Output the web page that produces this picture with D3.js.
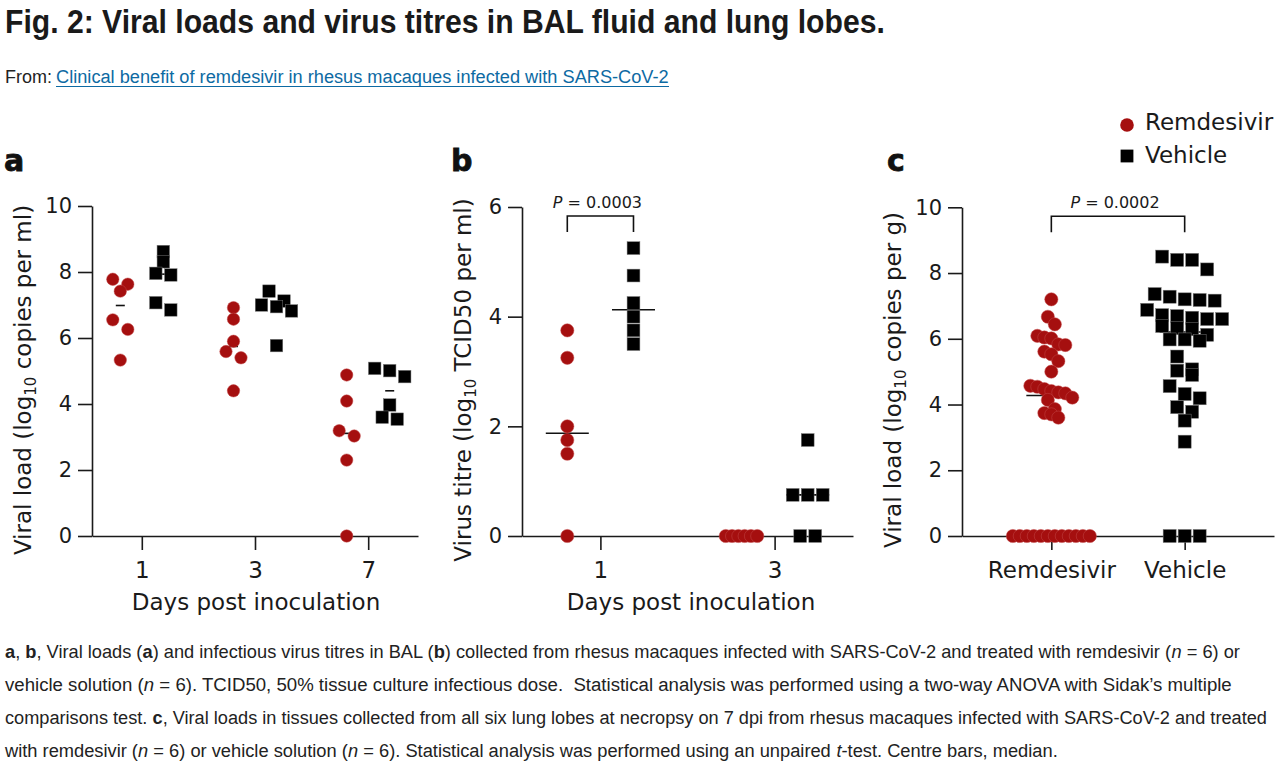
<!DOCTYPE html>
<html><head><meta charset="utf-8">
<script src="https://cdn.jsdelivr.net/npm/d3@7"></script>
<style>
html,body{margin:0;padding:0;background:#fff;}
svg{display:block;}
</style></head><body>
<svg id="chart" width="1280" height="766"></svg>
<script>
// ---------------- data ----------------
const titleText = "Fig. 2: Viral loads and virus titres in BAL fluid and lung lobes.";
const fromLabel = "From:";
const fromLink = "Clinical benefit of remdesivir in rhesus macaques infected with SARS-CoV-2";

// Panel a: viral load in BAL (log10 copies per ml)
const aDays = ["1", "3", "7"];
const aRemdesivir = [
  [7.78, 7.63, 7.42, 6.55, 6.26, 5.33],
  [6.92, 6.57, 5.90, 5.59, 5.40, 4.40],
  [4.88, 4.09, 3.19, 3.03, 2.30, 0]
];
const aVehicle = [
  [8.62, 8.31, 7.96, 7.91, 7.07, 6.85],
  [7.42, 7.12, 7.00, 6.95, 6.82, 5.77],
  [5.08, 5.01, 4.83, 3.97, 3.60, 3.54]
];
const aTicks = [0, 2, 4, 6, 8, 10];

// Panel b: virus titre in BAL (log10 TCID50 per ml)
const bDays = ["1", "3"];
const bRemdesivir = [
  [3.75, 3.25, 2.0, 1.75, 1.5, 0],
  [0, 0, 0, 0, 0, 0]
];
const bVehicle = [
  [5.25, 4.75, 4.25, 4.0, 3.75, 3.5],
  [1.75, 0.75, 0.75, 0.75, 0, 0]
];
const bTicks = [0, 2, 4, 6];
const bPValue = "0.0003";

// Panel c: viral load in lung lobes (log10 copies per g)
const cGroups = ["Remdesivir", "Vehicle"];
const cRemdesivir = [7.20, 6.67, 6.44, 6.09, 6.04, 6.01, 5.83, 5.81, 5.61, 5.53, 5.32, 5.00,
  4.57, 4.54, 4.47, 4.41, 4.37, 4.34, 4.21, 4.14, 3.86, 3.74, 3.70, 3.60,
  0, 0, 0, 0, 0, 0, 0, 0, 0, 0, 0, 0];
const cVehicle = [8.50, 8.40, 8.40, 8.11, 7.36, 7.28, 7.20, 7.18, 7.16, 6.88, 6.72, 6.69,
  6.64, 6.60, 6.60, 6.39, 6.32, 6.29, 6.12, 5.98, 5.98, 5.94, 5.46, 5.07, 5.03, 4.90,
  4.56, 4.32, 4.19, 3.92, 3.78, 3.51, 2.87, 0, 0, 0];
const cTicks = [0, 2, 4, 6, 8, 10];
const cPValue = "0.0002";

const legendItems = ["Remdesivir", "Vehicle"];

const captionLines = [
  [["a", "b"], [", "], ["b", "b"], [", Viral loads ("], ["a", "b"], [") and infectious virus titres in BAL ("], ["b", "b"], [") collected from rhesus macaques infected with SARS-CoV-2 and treated with remdesivir ("], ["n", "i"], [" = 6) or"]],
  [["vehicle solution ("], ["n", "i"], [" = 6). TCID50, 50% tissue culture infectious dose.  Statistical analysis was performed using a two-way ANOVA with Sidak\u2019s multiple"]],
  [["comparisons test. "], ["c", "b"], [", Viral loads in tissues collected from all six lung lobes at necropsy on 7 dpi from rhesus macaques infected with SARS-CoV-2 and treated"]],
  [["with remdesivir ("], ["n", "i"], [" = 6) or vehicle solution ("], ["n", "i"], [" = 6). Statistical analysis was performed using an unpaired "], ["t", "i"], ["-test. Centre bars, median."]]
];

// ---------------- styles ----------------
const RED = "#a50f0f";
const INK = "#1a1a1a";
const FONT = "'DejaVu Sans', 'Liberation Sans', Arial, sans-serif";
const SANS = "'Liberation Sans', Arial, sans-serif";

const svg = d3.select("#chart");

// text line made of styled segments, squeezed horizontally to a target width
function squeezedLine(x, y, target, segs, size, color, weight) {
  const g = svg.append("g");
  let cx = 0;
  segs.forEach(s => {
    const t = g.append("text").attr("x", cx).attr("y", 0)
      .attr("font-family", SANS).attr("font-size", size).attr("fill", s[2] || color)
      .style("white-space", "pre").text(s[0]);
    if (weight) t.attr("font-weight", weight);
    if (s[1] === "b") t.attr("font-weight", 700);
    if (s[1] === "i") t.attr("font-style", "italic");
    cx += t.node().getComputedTextLength();
  });
  g.attr("transform", `translate(${x},${y}) scale(${target / cx},1)`);
  return g;
}

// ---------------- header ----------------
squeezedLine(5, 33, 880, [[titleText]], 34, "#1a1a1a", 700);
squeezedLine(5, 83, 47, [[fromLabel]], 19, "#222");
squeezedLine(56, 83, 613, [[fromLink]], 19, "#0d6aa3");
svg.append("line").attr("x1", 56).attr("x2", 669).attr("y1", 86.5).attr("y2", 86.5)
  .attr("stroke", "#0d6aa3").attr("stroke-width", 1.2);

// ---------------- caption ----------------
const capEnds = [1240, 1233, 1268, 1058];
const capBase = [658, 691, 724, 757];
captionLines.forEach((segs, i) => {
  squeezedLine(5, capBase[i], capEnds[i] - 5, segs, 19, "#222");
});

// ---------------- layout helper (row-based dot plot) ----------------
function layout(values, cx, y, step, thr) {
  const pts = values.map(v => ({ v: v, py: y(v) })).sort((a, b) => a.py - b.py);
  const rows = [];
  pts.forEach(p => {
    const r = rows[rows.length - 1];
    if (r && p.py - r[0].py < thr) r.push(p); else rows.push([p]);
  });
  rows.forEach(r => r.forEach((p, i) => { p.px = cx + (i - (r.length - 1) / 2) * step; }));
  return pts;
}

function drawPanel(c) {
  const g = svg.append("g");
  const y = d3.scaleLinear().domain([0, c.yMax]).range([536, c.yTop]);
  const x = d3.scalePoint().domain(c.cats).range([c.x0, c.x1]).padding(c.pad);

  const ax = g.append("g").attr("transform", `translate(${c.x0},0)`)
    .call(d3.axisLeft(y).tickValues(c.yTicks).tickFormat(d3.format("d"))
      .tickSize(14).tickSizeOuter(0).tickPadding(6));
  const bx = g.append("g").attr("transform", "translate(0,536)")
    .call(d3.axisBottom(x).tickSize(14).tickSizeOuter(0).tickPadding(12));
  [ax, bx].forEach(a => {
    a.attr("font-family", FONT).attr("font-size", null).attr("color", INK);
    a.selectAll("path,line").attr("stroke-width", 1.6);
  });
  ax.selectAll("text").attr("font-size", 21).attr("fill", INK);
  bx.selectAll("text").attr("font-size", 23).attr("fill", INK);

  // y title
  const yt = g.append("text").attr("transform", `translate(${c.ytX},380) rotate(-90)`)
    .attr("text-anchor", "middle").attr("font-family", FONT).attr("font-size", 23).attr("fill", INK);
  yt.append("tspan").text(c.yTitle[0]);
  yt.append("tspan").attr("font-size", 15).attr("dy", 5).text("10");
  yt.append("tspan").attr("dy", -5).text(c.yTitle[1]);

  if (c.xTitle) {
    g.append("text").attr("x", c.xtX).attr("y", 610).attr("text-anchor", "middle")
      .attr("font-family", FONT).attr("font-size", 23).attr("fill", INK).text(c.xTitle);
  }

  // panel letter
  g.append("text").attr("x", c.labelX).attr("y", 171).attr("font-family", FONT)
    .attr("font-weight", 700).attr("font-size", 30).attr("fill", "#111")
    .attr("stroke", "#111").attr("stroke-width", 0.8).text(c.letter);

  const off = c.offFrac * x.step();
  const groups = c.groups.map(gr => ({ cx: x(gr.cat) + gr.side * off, values: gr.values, shape: gr.shape }));

  // medians (under markers)
  groups.forEach(gr => {
    const m = d3.median(gr.values);
    g.append("line").attr("x1", gr.cx - c.mw).attr("x2", gr.cx + c.mw)
      .attr("y1", y(m)).attr("y2", y(m)).attr("stroke", "#111").attr("stroke-width", 1.6);
  });

  // markers
  groups.forEach(gr => {
    const step = gr.shape === "circle" ? c.stepC : c.stepS;
    const pts = layout(gr.values, gr.cx, y, step, c.thr);
    if (gr.shape === "circle") {
      g.append("g").selectAll("circle").data(pts).join("circle")
        .attr("cx", d => d.px).attr("cy", d => d.py).attr("r", c.r)
        .attr("fill", RED).attr("stroke", "#c24848").attr("stroke-width", 0.5);
    } else {
      g.append("g").selectAll("rect").data(pts).join("rect")
        .attr("x", d => d.px - c.s / 2).attr("y", d => d.py - c.s / 2)
        .attr("width", c.s).attr("height", c.s)
        .attr("fill", "#000").attr("stroke", "#777").attr("stroke-width", 0.5);
    }
  });

  // significance bracket
  if (c.bracket) {
    const lx = x(c.bracket.cat) + c.bracket.l * off;
    const rx = x(c.bracket.cat2) + c.bracket.r * off;
    const top = c.yTop + 9, bot = c.yTop + 25;
    g.append("path").attr("d", `M${lx},${bot}V${top}H${rx}V${bot}`)
      .attr("fill", "none").attr("stroke", "#111").attr("stroke-width", 1.6);
    const pt = g.append("text").attr("x", (lx + rx) / 2 - 3).attr("y", c.yTop + 1)
      .attr("text-anchor", "middle").attr("font-family", FONT).attr("font-size", 16).attr("fill", INK);
    pt.append("tspan").attr("font-style", "italic").text("P");
    pt.append("tspan").text(" = " + c.bracket.p);
  }
  return { x, y };
}

function pairGroups(cats, rem, veh) {
  const out = [];
  cats.forEach((cat, i) => {
    out.push({ cat, values: rem[i], shape: "circle", side: -1 });
    out.push({ cat, values: veh[i], shape: "square", side: 1 });
  });
  return out;
}

drawPanel({
  letter: "a", labelX: 4,
  cats: aDays, x0: 92, x1: 418, pad: 0.44, yMax: 10, yTop: 206, yTicks: aTicks,
  ytX: 31, yTitle: ["Viral load (log", " copies per ml)"], xTitle: "Days post inoculation", xtX: 256,
  groups: pairGroups(aDays, aRemdesivir, aVehicle), offFrac: 0.19,
  r: 6.2, s: 12.5, stepC: 15, stepS: 15, thr: 10, mw: 4.5
});

drawPanel({
  letter: "b", labelX: 451,
  cats: bDays, x0: 522, x1: 853, pad: 0.45, yMax: 6, yTop: 207, yTicks: bTicks,
  ytX: 471, yTitle: ["Virus titre (log", " TCID50 per ml)"], xTitle: "Days post inoculation", xtX: 691,
  groups: pairGroups(bDays, bRemdesivir, bVehicle), offFrac: 0.19,
  r: 6.6, s: 12.8, stepC: 6.3, stepS: 15, thr: 12, mw: 21.5,
  bracket: { cat: "1", cat2: "1", l: -1, r: 1, p: bPValue }
});

drawPanel({
  letter: "c", labelX: 887,
  cats: cGroups, x0: 962, x1: 1274, pad: 0.67, yMax: 10, yTop: 207.3, yTicks: cTicks,
  ytX: 901, yTitle: ["Viral load (log", " copies per g)"], xTitle: null,
  groups: [
    { cat: cGroups[0], values: cRemdesivir, shape: "circle", side: 0 },
    { cat: cGroups[1], values: cVehicle, shape: "square", side: 0 }
  ], offFrac: 0,
  r: 6.6, s: 13, stepC: 7, stepS: 15, thr: 13, mw: 25,
  bracket: { cat: cGroups[0], cat2: cGroups[1], l: 0, r: 0, p: cPValue }
});

// legend
const lg = svg.append("g");
lg.append("circle").attr("cx", 1127).attr("cy", 125).attr("r", 6.8).attr("fill", RED);
lg.append("rect").attr("x", 1120.6).attr("y", 149.6).attr("width", 12.8).attr("height", 12.8).attr("fill", "#000");
legendItems.forEach((t, i) => {
  lg.append("text").attr("x", 1145).attr("y", i === 0 ? 130 : 163)
    .attr("font-family", FONT).attr("font-size", 23).attr("fill", INK).text(t);
});
</script>
</body></html>
